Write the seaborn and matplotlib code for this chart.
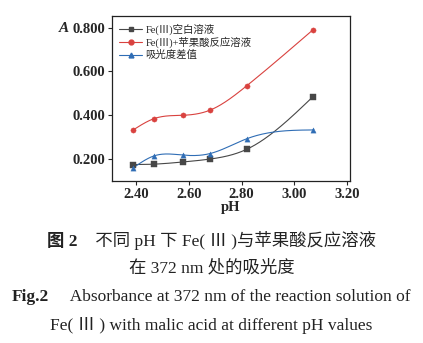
import numpy as np
import pandas as pd
import matplotlib
matplotlib.use("Agg")
import matplotlib.pyplot as plt
import seaborn as sns
from matplotlib.offsetbox import TextArea, HPacker, AnchoredOffsetbox

ph = [2.39, 2.47, 2.58, 2.68, 2.82, 3.07]
blank = [0.175, 0.177, 0.187, 0.200, 0.245, 0.485]
reaction = [0.333, 0.385, 0.400, 0.423, 0.535, 0.790]
diff = [0.160, 0.215, 0.218, 0.225, 0.293, 0.333]
names = ["Fe(Ⅲ)空白溶液", "Fe(Ⅲ)+苹果酸反应溶液", "吸光度差值"]
xticks = [2.40, 2.60, 2.80, 3.00, 3.20]
yticks = [0.200, 0.400, 0.600, 0.800]

sns.set_theme(style="ticks")
plt.rcParams['font.family'] = ['Liberation Serif', 'Noto Sans CJK SC', 'DejaVu Sans']
plt.rcParams['axes.unicode_minus'] = False


def spline(x, y, n=200):
    x = np.asarray(x, float); y = np.asarray(y, float)
    m = len(x); h = np.diff(x)
    A = np.zeros((m, m)); b = np.zeros(m)
    A[0, 0] = 1; A[-1, -1] = 1
    for i in range(1, m - 1):
        A[i, i - 1] = h[i - 1]; A[i, i] = 2 * (h[i - 1] + h[i]); A[i, i + 1] = h[i]
        b[i] = 3 * ((y[i + 1] - y[i]) / h[i] - (y[i] - y[i - 1]) / h[i - 1])
    c = np.linalg.solve(A, b)
    xs = np.linspace(x[0], x[-1], n); ys = np.empty_like(xs)
    for k, xv in enumerate(xs):
        i = min(np.searchsorted(x, xv, side='right') - 1, m - 2)
        dx = xv - x[i]
        bb = (y[i + 1] - y[i]) / h[i] - h[i] * (2 * c[i] + c[i + 1]) / 3
        d = (c[i + 1] - c[i]) / (3 * h[i])
        ys[k] = y[i] + bb * dx + c[i] * dx ** 2 + d * dx ** 3
    return xs, ys


fig = plt.figure(figsize=(4.23, 3.43), dpi=100)
ax = fig.add_axes([112 / 423, 1 - 181 / 343, 238 / 423, 165 / 343])

colors = ["#474747", "#d9423f", "#2f6db5"]
markers = ["s", "o", "^"]
series = [blank, reaction, diff]
for vals, col, mk, nm in zip(series, colors, markers, names):
    xs, ys = spline(ph, vals)
    sns.lineplot(x=xs, y=ys, ax=ax, color=col, lw=0.8, sort=False, estimator=None)
    df = pd.DataFrame({"pH": ph, "A": vals})
    sns.scatterplot(data=df, x="pH", y="A", ax=ax, color=col, marker=mk, s=14,
                    edgecolor=col, linewidth=0.3, zorder=5)
    ax.plot([], [], color=col, marker=mk, ms=3.5, lw=0.8, label=nm)

ax.set_xlim(2.31, 3.21)
ax.set_ylim(0.10, 0.853)
ax.set_xticks(xticks)
ax.set_xticklabels([f"{v:.2f}" for v in xticks])
ax.set_yticks(yticks)
ax.set_yticklabels([f"{v:.3f}" for v in yticks])
ax.tick_params(labelsize=10.5, direction='out', length=3, width=0.8, pad=2)
for lab in ax.get_xticklabels() + ax.get_yticklabels():
    lab.set_fontweight('bold')
for s in ax.spines.values():
    s.set_visible(True); s.set_linewidth(0.9); s.set_color('#222222')
ax.set_xlabel("pH", fontsize=10.5, fontweight='bold', labelpad=0)
ax.set_ylabel("")
fig.text(64 / 423, 1 - 28 / 343, "A", fontsize=11, fontstyle='italic', fontweight='bold',
         ha='center', va='center')

leg = ax.legend(loc='upper left', frameon=False, fontsize=7.5, handlelength=2.2,
                handletextpad=0.3, labelspacing=0.2, borderaxespad=0.3,
                bbox_to_anchor=(0.0, 1.0))

cf = ['Liberation Serif', 'Noto Sans CJK SC']
FS = 12.5


def caption_line(parts, ycen):
    areas = [TextArea(t, textprops=dict(fontsize=FS, family=cf, fontweight=w, color='#222222'))
             for t, w in parts]
    box = HPacker(children=areas, align='baseline', pad=0, sep=0)
    anc = AnchoredOffsetbox(loc='center', child=box, pad=0, frameon=False,
                            bbox_to_anchor=(0.5, 1 - ycen / 343),
                            bbox_transform=fig.transFigure, borderpad=0)
    fig.add_artist(anc)


caption_line([("图 2", 'bold'), ("　不同 pH 下 Fe( Ⅲ )与苹果酸反应溶液", 'normal')], 240)
caption_line([("在 372 nm 处的吸光度", 'normal')], 268)
caption_line([("Fig.2", 'bold'), ("　 Absorbance at 372 nm of the reaction solution of", 'normal')], 297)
caption_line([("Fe( Ⅲ ) with malic acid at different pH values", 'normal')], 326)

fig.savefig("out.png", dpi=100)
